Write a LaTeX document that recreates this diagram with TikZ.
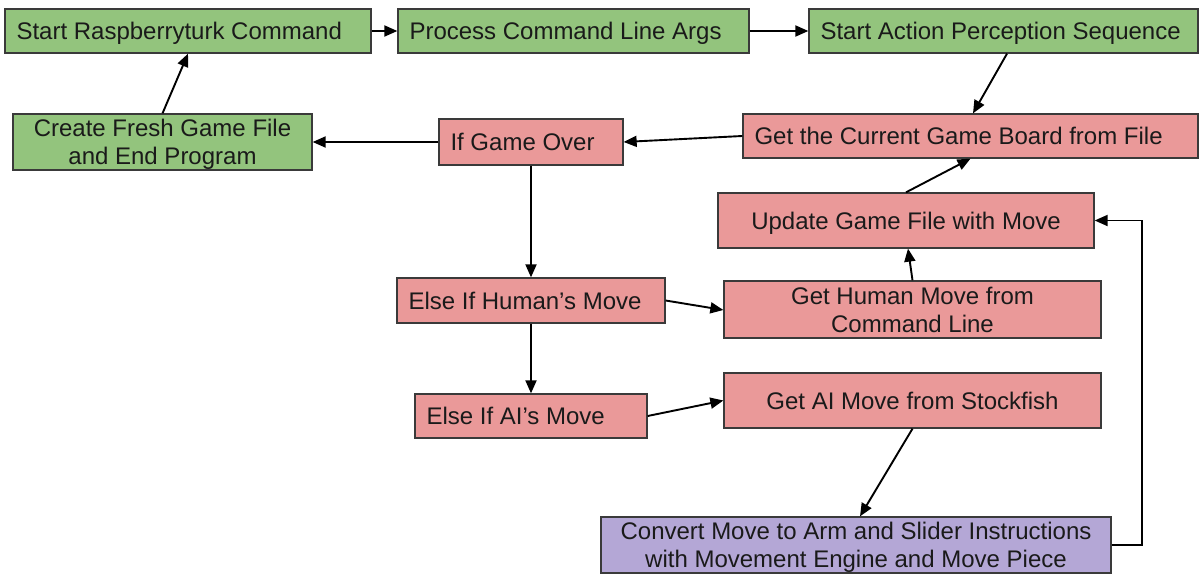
\documentclass[tikz,border=0pt]{standalone}
\usepackage{fontspec}
\setmainfont{Liberation Sans}
\usetikzlibrary{arrows.meta}
\definecolor{boxgreen}{HTML}{93C47D}
\definecolor{boxred}{HTML}{EA9999}
\definecolor{boxpurple}{HTML}{B4A7D6}
\definecolor{edge}{HTML}{3A3A3A}
\definecolor{ink}{HTML}{1A1A1A}
\tikzset{
  flowbox/.style n args={3}{draw=edge, line width=1.3pt, fill=#1,
    rectangle, inner xsep=11.5pt, inner ysep=0pt,
    text width=#2-23pt, minimum height=#3, text depth=0pt, text=ink,
    font=\fontsize{24}{28}\selectfont},
  lbox/.style n args={3}{flowbox={#1}{#2}{#3}, align=flush left},
  cbox/.style n args={3}{flowbox={#1}{#2}{#3}, align=flush center},
  twoline/.style={text depth=28pt},
  link/.style={draw=black, line width=1.9pt,
    -{Triangle[length=13pt,width=11pt]}}
}
\begin{document}
\begin{tikzpicture}[x=1pt, y=-1pt]
\useasboundingbox (0,0) rectangle (1201,575);

% program start chain
\node[lbox={boxgreen}{366pt}{44pt}] (start) at (188,31) {Start Raspberryturk Command};
\node[lbox={boxgreen}{351pt}{44pt}] (args) at (573.5,31) {Process Command Line Args};
\node[lbox={boxgreen}{389pt}{44pt}] (seq) at (1003.5,31) {Start Action Perception Sequence};
\node[cbox={boxgreen}{299pt}{56pt}, twoline] (fresh) at (162.5,142) {Create Fresh Game File\\and End Program};

% game loop
\node[lbox={boxred}{184pt}{46pt}] (over) at (531,142) {If Game Over};
\node[lbox={boxred}{455pt}{44pt}] (board) at (970.5,136) {Get the Current Game Board from File};
\node[cbox={boxred}{376pt}{55pt}] (update) at (906,220.5) {Update Game File with Move};
\node[cbox={boxred}{377pt}{57pt}, twoline] (human) at (912.5,309.5) {Get Human Move from\\Command Line};
\node[lbox={boxred}{268pt}{45pt}] (ishuman) at (531,300.5) {Else If Human’s Move};
\node[lbox={boxred}{232pt}{44pt}] (isai) at (531,416) {Else If AI’s Move};
\node[cbox={boxred}{377pt}{55pt}] (ai) at (912.5,400.5) {Get AI Move from Stockfish};
\node[cbox={boxpurple}{510pt}{56pt}, twoline] (arm) at (856,545) {Convert Move to Arm and Slider Instructions\\with Movement Engine and Move Piece};

% connectors
\draw[link] (start.east) -- (args.west);
\draw[link] (args.east) -- (seq.west);
\draw[link] ([xshift=3.5pt]seq.south) -- ([xshift=2.5pt]board.north);
\draw[link] (board.west) -- (over.east);
\draw[link] (over.west) -- (fresh.east);
\draw[link] (fresh.north) -- (start.south);
\draw[link] (over.south) -- (ishuman.north);
\draw[link] (ishuman.south) -- (isai.north);
\draw[link] (ishuman.east) -- ([yshift=-0.5pt]human.west);
\draw[link] (isai.east) -- (ai.west);
\draw[link] (human.north) -- ([xshift=2pt]update.south);
\draw[link] (update.north) -- (board.south);
\draw[link] (ai.south) -- ([xshift=4pt]arm.north);
\draw[link] (arm.east) -- ++(30,0) |- (update.east);
\end{tikzpicture}
\end{document}
